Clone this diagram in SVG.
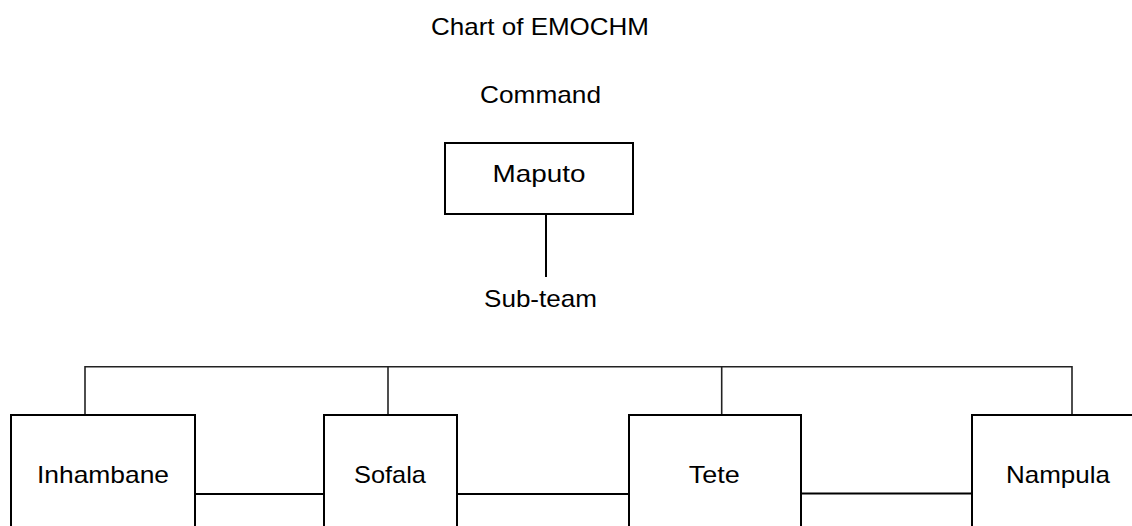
<svg xmlns="http://www.w3.org/2000/svg" width="1132" height="526" viewBox="0 0 1132 526">
<style>
text{font-family:"Liberation Sans",Arial,sans-serif;font-size:24px;fill:#000;text-anchor:middle}
.box{fill:#fff;stroke:#000;stroke-width:2}
.ln{stroke:#000;stroke-width:2;fill:none}
.hl{stroke:#222;stroke-width:1.6;fill:none}
</style>
<rect width="1132" height="526" fill="#fff"/>
<text x="540" y="35" textLength="218" lengthAdjust="spacingAndGlyphs">Chart of EMOCHM</text>
<text x="540.5" y="102.7" textLength="121" lengthAdjust="spacingAndGlyphs">Command</text>
<text x="540.5" y="306.7" textLength="113" lengthAdjust="spacingAndGlyphs">Sub-team</text>
<g id="connectors">
<line class="ln" x1="546" y1="214" x2="546" y2="277"/>
<polyline class="hl" points="85,417 85,366.7 1072,366.7 1072,417"/>
<line class="hl" x1="388" y1="366.7" x2="388" y2="417"/>
<line class="hl" x1="721.7" y1="366.7" x2="721.7" y2="417"/>
<line class="ln" x1="195" y1="494" x2="324" y2="494"/>
<line class="ln" x1="457" y1="494" x2="629" y2="494"/>
<line class="ln" x1="801" y1="493.5" x2="972" y2="493.5"/>
</g>
<g id="node-maputo">
<rect class="box" x="445" y="143" width="188" height="71"/>
<text x="539" y="181.7" textLength="93" lengthAdjust="spacingAndGlyphs">Maputo</text>
</g>
<g id="node-inhambane">
<rect class="box" x="11" y="415" width="184" height="130"/>
<text x="103" y="482.7" textLength="132" lengthAdjust="spacingAndGlyphs">Inhambane</text>
</g>
<g id="node-sofala">
<rect class="box" x="324" y="415" width="133" height="130"/>
<text x="390" y="483" textLength="72" lengthAdjust="spacingAndGlyphs">Sofala</text>
</g>
<g id="node-tete">
<rect class="box" x="629" y="415" width="172" height="130"/>
<text x="714.3" y="482.7" textLength="51" lengthAdjust="spacingAndGlyphs">Tete</text>
</g>
<g id="node-nampula">
<rect class="box" x="972" y="415" width="200" height="130"/>
<text x="1058" y="482.7" textLength="104" lengthAdjust="spacingAndGlyphs">Nampula</text>
</g>
</svg>
